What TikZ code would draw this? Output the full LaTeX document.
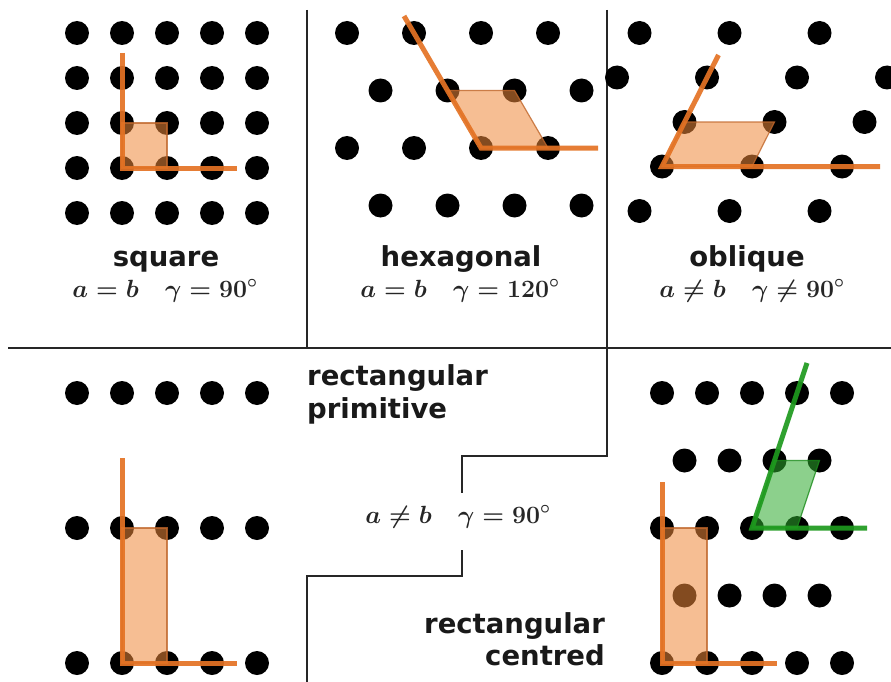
\documentclass[tikz,border=0pt]{standalone}
\usepackage{fontspec}
\newfontfamily\lblfont{DejaVu Sans}
\definecolor{orLine}{HTML}{E47324}
\definecolor{orFill}{HTML}{F08A3C}
\definecolor{orEdge}{HTML}{C0662A}
\definecolor{grLine}{HTML}{1E9A1E}
\definecolor{grFill}{HTML}{2EAA2E}
\definecolor{grEdge}{HTML}{1A8A1A}
\begin{document}
\begin{tikzpicture}[x=1pt,y=-1pt,
  dot/.style={fill=black},
  ofill/.style={fill=orFill,fill opacity=0.55,draw=orEdge,draw opacity=0.8,line width=1.2pt},
  oline/.style={draw=orLine,line width=5pt,opacity=0.92},
  gfill/.style={fill=grFill,fill opacity=0.55,draw=grEdge,draw opacity=0.8,line width=1.2pt},
  gline/.style={draw=grLine,line width=5pt,opacity=0.92},
  divider/.style={draw=black!85,line width=1.8pt},
  lbl/.style={font=\lblfont\bfseries\fontsize{27.5}{33}\selectfont,inner sep=0pt,text=black!90},
  frm/.style={font=\fontsize{24}{28}\selectfont\boldmath,inner sep=0pt,text=black!85}]
\fill[white] (0,0) rectangle (891,682);
\useasboundingbox (0,0) rectangle (891,682);

% dividers
\draw[divider] (8,348) -- (891,348);
\draw[divider] (307,10) -- (307,348);
\draw[divider] (607,10) -- (607,456) -- (462,456) -- (462,493);
\draw[divider] (462,550) -- (462,576) -- (307,576) -- (307,682);

% ---- square
\foreach \i in {0,...,4} \foreach \j in {0,...,4}
  \fill[dot] ({77+45*\i},{33+45*\j}) circle (12pt);
\path[ofill] (122,123) rectangle (167,168);
\draw[oline] (122,53) -- (122,168) -- (237,168);
\node[lbl,anchor=base] (lsq) at (166,266) {square};
\node[frm,anchor=base] (fsq) at (165,297) {$a=b\hspace{1.1em}\gamma=90^\circ$};

% ---- hexagonal
\foreach \i in {0,...,3} {
  \fill[dot] ({347+67*\i},33) circle (12pt);
  \fill[dot] ({380.5+67*\i},90.5) circle (12pt);
  \fill[dot] ({347+67*\i},148) circle (12pt);
  \fill[dot] ({380.5+67*\i},205.5) circle (12pt);
}
\path[ofill] (481,148) -- (548,148) -- (514.5,90.5) -- (447.5,90.5) -- cycle;
\draw[oline] (404,16) -- (481,148) -- (598,148);
\node[lbl,anchor=base] (lhex) at (461,266) {hexagonal};
\node[frm,anchor=base] (fhex) at (460,297) {$a=b\hspace{1.1em}\gamma=120^\circ$};

% ---- oblique
\foreach \p in {(639.5,33),(729.5,33),(819.5,33),
  (617,77.5),(707,77.5),(797,77.5),(887,77.5),
  (684.5,122),(774.5,122),(864.5,122),
  (662,166.5),(752,166.5),(842,166.5),
  (639.5,211),(729.5,211),(819.5,211)}
  \fill[dot] \p circle (12pt);
\path[ofill] (662,166.5) -- (752,166.5) -- (774.5,122) -- (684.5,122) -- cycle;
\draw[oline] (718.5,55) -- (662,166.5) -- (880,166.5);
\node[lbl,anchor=base] (lobl) at (747,266) {oblique};
\node[frm,anchor=base] (fobl) at (752,297) {$a\neq b\hspace{1.1em}\gamma\neq90^\circ$};

% ---- rectangular primitive
\foreach \i in {0,...,4} \foreach \y in {393,528,663}
  \fill[dot] ({77+45*\i},\y) circle (12pt);
\path[ofill] (122,528) rectangle (167,663);
\draw[oline] (122,458) -- (122,663) -- (237,663);
\node[lbl,anchor=base west] (lrp1) at (307,385) {rectangular};
\node[lbl,anchor=base west] (lrp2) at (307,418) {primitive};

% ---- middle formula
\node[frm,anchor=base] (frect) at (458,523) {$a\neq b\hspace{1.1em}\gamma=90^\circ$};

% ---- rectangular centred
\foreach \i in {0,...,4} \foreach \y in {393,528,663}
  \fill[dot] ({662+45*\i},\y) circle (12pt);
\foreach \i in {0,...,3} \foreach \y in {460.5,595.5}
  \fill[dot] ({684.5+45*\i},\y) circle (12pt);
\path[ofill] (662,528) rectangle (707,663);
\draw[oline] (662,482) -- (662,663) -- (777,663);
\path[gfill] (752,528) -- (797,528) -- (819.5,460.5) -- (774.5,460.5) -- cycle;
\draw[gline] (807,363) -- (752,528) -- (867,528);
\node[lbl,anchor=base east] (lrc1) at (605,633) {rectangular};
\node[lbl,anchor=base east] (lrc2) at (605,665) {centred};
\end{tikzpicture}
\end{document}
